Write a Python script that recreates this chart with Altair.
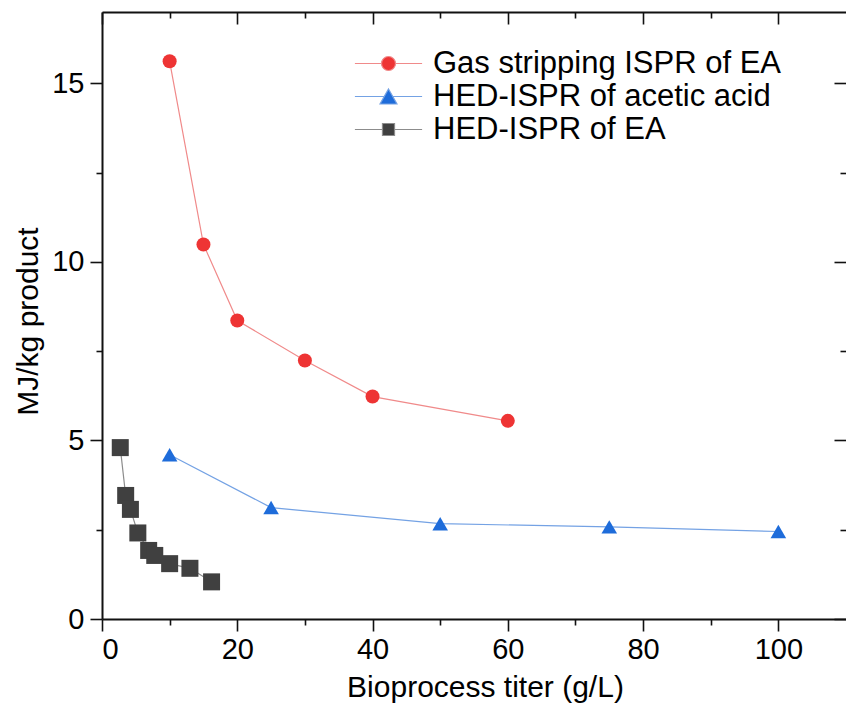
import altair as alt
import pandas as pd

# ---------------- data ----------------
series_names = ["Gas stripping ISPR of EA", "HED-ISPR of acetic acid", "HED-ISPR of EA"]

gas_x = [10, 15, 20, 30, 40, 60]
gas_y = [15.62, 10.49, 8.36, 7.24, 6.23, 5.55]

acid_x = [10, 25, 50, 75, 100]
acid_y = [4.60, 3.12, 2.67, 2.58, 2.45]

ea_x = [2.7, 3.5, 4.2, 5.3, 6.9, 7.8, 10.0, 13.0, 16.2]
ea_y = [4.80, 3.46, 3.07, 2.41, 1.92, 1.78, 1.55, 1.42, 1.04]

x_major = [0, 20, 40, 60, 80, 100]
x_minor = [10, 30, 50, 70, 90]
y_major = [0, 5, 10, 15]
y_minor = [2.5, 7.5, 12.5]

x_title = "Bioprocess titer (g/L)"
y_title = "MJ/kg product"

# ---------------- styles ----------------
marker_colors = ["#EE3434", "#1E6CDA", "#404040"]
line_colors = ["#F08A8A", "#74A2E4", "#8C8C8C"]
marker_shapes = ["circle", "triangle-up", "square"]
marker_sizes = [196, 289, 144]
legend_paths = [
    "M-4.8,0H-1M1,0H4.8M-1,0A1,1,0,1,1,1,0A1,1,0,1,1,-1,0Z",
    "M-4.8,0H-0.6M0.6,0H4.8M0,-1.07L1.21,1.07L-1.21,1.07Z",
    "M-4.8,0H-0.86M0.86,0H4.8M-0.86,-0.86H0.86V0.86H-0.86Z",
]
FONT = "Liberation Sans"

rows = []
for name, xs_, ys_ in zip(series_names, [gas_x, acid_x, ea_x], [gas_y, acid_y, ea_y]):
    for a, b in zip(xs_, ys_):
        rows.append({"series": name, "x": a, "y": b})
df = pd.DataFrame(rows)

xscale = alt.Scale(domain=[0, 110], nice=False, zero=False)
yscale = alt.Scale(domain=[0, 17], nice=False, zero=False)

base = alt.Chart(df)


def hidden_axis(orient, values, size, offset=0):
    return alt.Axis(orient=orient, values=values, tickSize=size, offset=offset,
                    labels=False, domain=False, title=None, grid=False)


# Layer A: lines + bottom/left major axes
lines = base.mark_line(strokeWidth=1.2).encode(
    x=alt.X("x:Q", scale=xscale,
            axis=alt.Axis(orient="bottom", values=x_major, tickSize=12, labelPadding=4,
                          title=x_title, titlePadding=8, titleX=383, grid=False)),
    y=alt.Y("y:Q", scale=yscale,
            axis=alt.Axis(orient="left", values=y_major, tickSize=12, labelPadding=6,
                          title=y_title, titlePadding=8, titleY=309, grid=False)),
    color=alt.Color("series:N", scale=alt.Scale(domain=series_names, range=line_colors), legend=None),
)

# Layer B: markers + bottom/left minor ticks
points = base.mark_point(filled=True, opacity=1, strokeWidth=0).encode(
    x=alt.X("x:Q", scale=xscale, axis=hidden_axis("bottom", x_minor, 6)),
    y=alt.Y("y:Q", scale=yscale, axis=hidden_axis("left", y_minor, 6)),
    color=alt.Color("series:N", scale=alt.Scale(domain=series_names, range=marker_colors), legend=None),
    shape=alt.Shape("series:N", scale=alt.Scale(domain=series_names, range=marker_shapes), legend=None),
    size=alt.Size("series:N", scale=alt.Scale(domain=series_names, range=marker_sizes), legend=None),
)

leg = alt.Legend(orient="none", legendX=271, legendY=36, title=None, labelFont=FONT,
                 labelFontSize=31, labelColor="black", symbolSize=196, symbolStrokeWidth=1.2,
                 labelOffset=29, rowPadding=1, padding=0, labelLimit=600, symbolOpacity=1)

# Layer C: legend carrier (no marks drawn) + top/right major inward ticks
legend_layer = base.transform_filter("false").mark_point(filled=True, opacity=1, strokeWidth=1.2).encode(
    x=alt.X("x:Q", scale=xscale, axis=hidden_axis("top", x_major, 12, -12)),
    y=alt.Y("y:Q", scale=yscale, axis=hidden_axis("right", y_major, 12, -12)),
    fill=alt.Fill("series:N", scale=alt.Scale(domain=series_names, range=marker_colors), legend=leg),
    stroke=alt.Stroke("series:N", scale=alt.Scale(domain=series_names, range=line_colors), legend=leg),
    shape=alt.Shape("series:N", scale=alt.Scale(domain=series_names, range=legend_paths), legend=leg),
)

# Layer D: top/right minor inward ticks
minor_layer = base.transform_filter("false").mark_point().encode(
    x=alt.X("x:Q", scale=xscale, axis=hidden_axis("top", x_minor, 6, -6)),
    y=alt.Y("y:Q", scale=yscale, axis=hidden_axis("right", y_minor, 6, -6)),
)

# Layer E: top frame line
frame_layer = base.transform_filter("false").mark_point().encode(
    x=alt.X("x:Q", scale=xscale,
            axis=alt.Axis(orient="top", ticks=False, labels=False, domain=True, title=None, grid=False)),
    y=alt.Y("y:Q", scale=yscale, axis=None),
)

chart = alt.layer(lines, points, legend_layer, minor_layer, frame_layer).resolve_scale(
    color="independent", shape="independent", size="independent",
    fill="independent", stroke="independent",
).resolve_axis(
    x="independent", y="independent"
).properties(
    width=744, height=607,
    padding={"left": 102, "top": 12, "right": 0, "bottom": 94},
    autosize=alt.AutoSizeParams(type="none"),
    background="white",
).configure_view(
    stroke=None
).configure_axis(
    labelFont=FONT, labelFontSize=29, labelColor="black",
    titleFont=FONT, titleFontSize=30, titleFontWeight="normal", titleColor="black",
    domainColor="#111111", domainWidth=2, tickColor="#111111", tickWidth=1.6,
)

chart.save("out.html", embed_options={"renderer": "svg", "actions": False})
